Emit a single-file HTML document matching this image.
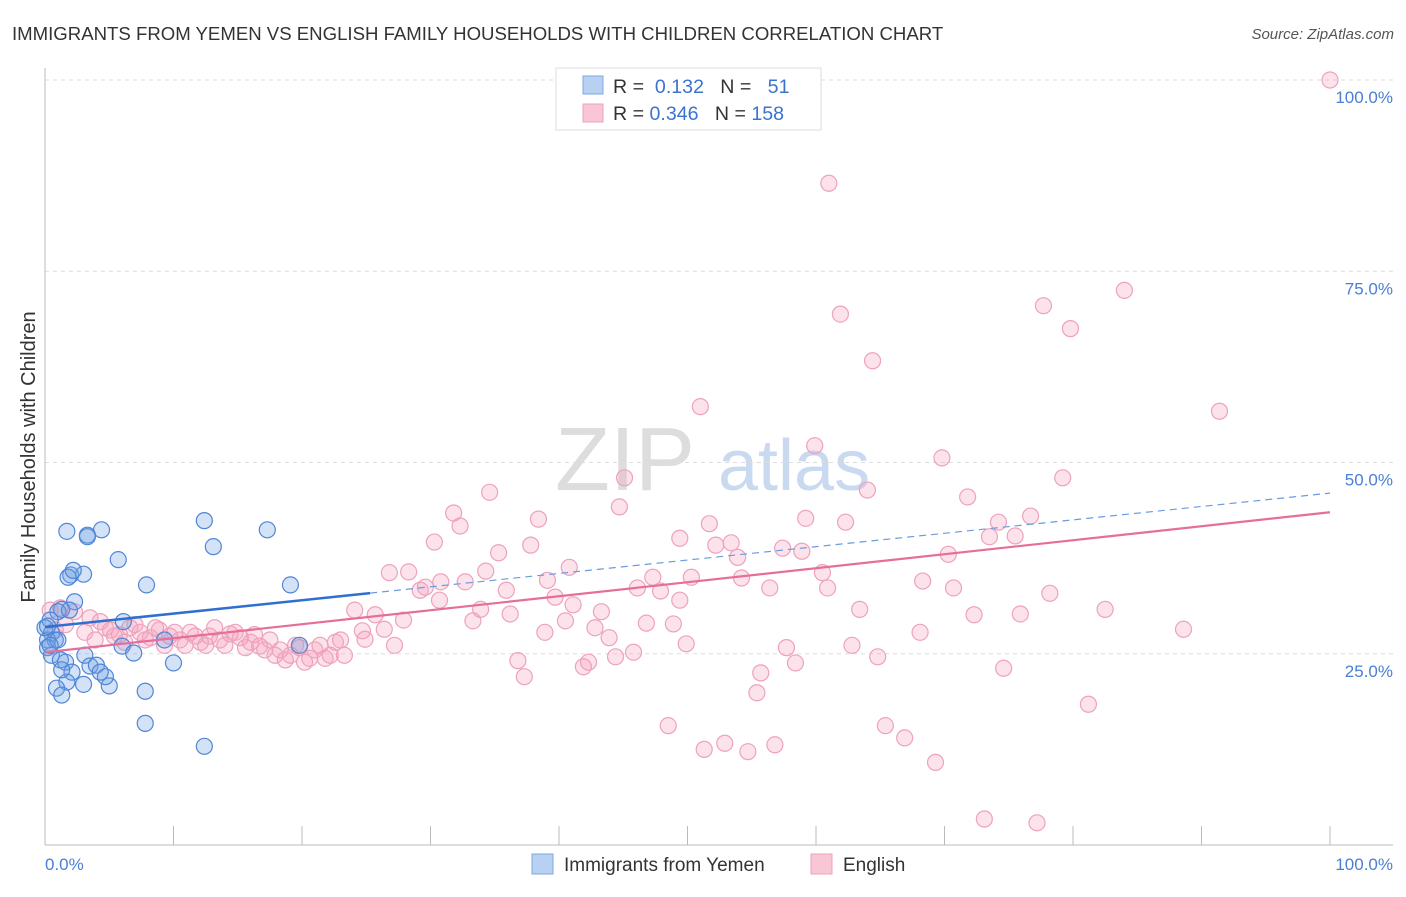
<!DOCTYPE html>
<html><head><meta charset="utf-8"><style>
body{margin:0;background:#fff;font-family:"Liberation Sans",sans-serif}
svg text{font-family:"Liberation Sans",sans-serif}
</style></head><body>
<svg id="chart" width="1406" height="892" xmlns="http://www.w3.org/2000/svg">
<text x="12" y="40" font-size="18.6" fill="#333">IMMIGRANTS FROM YEMEN VS ENGLISH FAMILY HOUSEHOLDS WITH CHILDREN CORRELATION CHART</text>
<text x="1394" y="39" font-size="15" fill="#555" font-style="italic" text-anchor="end">Source: ZipAtlas.com</text>
<g><text x="555" y="490" font-size="90" fill="#ddd" font-family="Liberation Serif">ZIP</text><text x="718" y="490" font-size="72" fill="#c9daf0">atlas</text></g>
<g id="grid"></g><g id="axes"></g><g id="pts"></g><g id="lines"></g>
<text transform="translate(35,457) rotate(-90)" font-size="20" fill="#333" text-anchor="middle">Family Households with Children</text>
<text x="45" y="870" font-size="17" fill="#4a7fd4">0.0%</text>
<text x="1393" y="870" font-size="17" fill="#4a7fd4" text-anchor="end">100.0%</text>
<g>
<rect x="556" y="68" width="265" height="62" fill="#fff" stroke="#ddd"/>
<rect x="583" y="76" width="20" height="18" fill="#b8d1f3" stroke="#7ea8e3"/>
<rect x="583" y="104" width="20" height="18" fill="#f9c6d6" stroke="#eea2bb"/>
<text x="613" y="93" font-size="19.6" fill="#333">R = <tspan fill="#3a73d0">&#160;0.132</tspan>&#160;&#160;&#160;N = <tspan fill="#3a73d0">&#160;&#160;51</tspan></text>
<text x="613" y="120" font-size="19.6" fill="#333">R = <tspan fill="#3a73d0">0.346</tspan>&#160;&#160;&#160;N = <tspan fill="#3a73d0">158</tspan></text>
</g>
<g>
<rect x="532" y="854" width="21" height="20" fill="#b8d1f3" stroke="#7ea8e3"/>
<text x="564" y="871" font-size="19" fill="#333">Immigrants from Yemen</text>
<rect x="811" y="854" width="21" height="20" fill="#f9c6d6" stroke="#eea2bb"/>
<text x="843" y="871" font-size="19" fill="#333">English</text>
</g>
</svg>
<script>
const yTicks=[25,50,75,100];
const yTickLabels=["25.0%","50.0%","75.0%","100.0%"];
const xTicks=[0,10,20,30,40,50,60,70,80,90,100];
const blueX=[1.7,3.3,4.4,3.3,5.7,2.0,1.8,3.0,2.2,7.9,12.4,13.1,17.3,19.1,2.3,1.3,1.0,0.4,0.5,0.2,0.8,0.2,0.5,1.2,1.6,3.1,2.1,3.5,4.0,1.7,3.0,0.9,1.3,5.0,4.7,7.8,6.1,6.0,6.9,10.0,7.8,12.4,9.3,19.8,0,0.2,1.0,0.4,1.9,4.3,1.3];
const blueY=[41.0,40.5,41.2,40.3,37.3,35.3,35.0,35.4,35.9,34.0,42.4,39.0,41.2,34.0,31.8,30.8,30.5,29.4,27.7,26.8,26.8,25.8,24.8,24.2,23.9,24.8,22.6,23.4,23.5,21.3,21.0,20.5,19.6,20.8,22.0,20.1,29.2,26.0,25.1,23.8,15.9,12.9,26.8,26.1,28.4,28.6,26.8,26.1,30.7,22.6,22.9];
const pinkX=[0.4,1.2,2.3,3.5,4.3,5.1,5.8,6.6,7.4,8.2,8.9,9.7,10.5,11.3,12.1,12.8,13.6,14.4,15.2,16.0,16.7,17.5,18.3,19.1,19.8,20.6,21.4,22.2,23.0,
0.8,1.6,3.1,3.9,4.7,5.4,6.2,7.0,7.8,8.6,9.3,10.1,10.9,11.7,12.5,13.2,14.0,14.8,15.6,16.3,17.1,17.9,18.7,19.5,20.2,21.0,21.8,22.6,23.3,
100,61.0,61.9,84.0,77.7,79.8,64.4,51.0,91.4,59.9,69.8,64.0,79.2,34.6,45.1,44.7,31.8,32.3,38.4,30.3,37.8,35.3,40.8,39.1,26.8,28.3,34.3,32.7,30.8,29.6,29.2,35.9,39.7,41.1,33.9,36.2,43.3,24.1,25.7,26.4,27.9,33.3,40.5,42.8,43.9,38.9,48.9,46.8,45.8,44.4,42.3,41.9,36.8,37.3,27.2,24.9,49.4,51.7,52.2,53.4,53.9,57.4,58.9,59.2,62.3,60.5,60.9,54.2,50.3,47.3,46.1,47.9,49.4,56.4,63.4,68.3,70.7,70.3,71.8,74.2,73.5,75.5,76.7,68.1,72.3,75.9,78.2,82.5,88.6,81.2,74.6,64.8,62.8,57.7,58.4,55.7,55.4,49.9,48.5,51.3,52.9,54.7,56.8,65.4,66.9,69.3,73.1,77.2,30.7,24.7];
const pinkY=[30.7,31.0,30.5,29.7,29.2,28.1,27.5,28.4,27.8,27.1,28.1,27.3,26.8,27.8,26.5,27.3,26.8,27.6,27.1,26.5,26.0,26.8,25.5,24.8,25.8,24.4,26.1,24.8,26.8,
28.1,28.8,27.8,26.8,28.4,27.3,26.5,28.8,26.8,28.4,26.1,27.8,26.1,27.3,26.1,28.4,26.1,27.8,25.8,27.5,25.5,24.8,24.2,26.1,23.9,25.5,24.4,26.5,24.8,
100,86.5,69.4,72.5,70.5,67.5,63.3,57.3,56.7,52.2,50.6,46.4,48.0,46.1,48.0,44.2,43.4,41.7,42.6,39.6,39.2,38.2,36.3,34.6,35.6,35.7,35.8,34.4,34.4,33.7,33.3,33.3,32.4,31.4,30.8,30.2,30.5,30.7,30.1,28.2,29.4,29.3,29.3,28.4,27.1,27.8,28.9,29.0,25.2,24.6,23.9,23.3,24.1,22.0,26.1,26.9,40.1,42.0,39.2,39.5,37.6,38.8,38.4,42.7,42.2,35.6,33.6,34.9,35.0,35.0,33.6,33.2,32.0,33.6,30.8,34.5,33.6,38.0,45.5,42.2,40.3,40.4,43.0,27.8,30.1,30.2,32.9,30.8,28.2,18.4,23.1,24.6,26.1,25.8,23.8,22.5,19.9,26.3,15.6,12.5,13.3,12.2,13.1,15.6,14.0,10.8,3.4,2.9,32.0,28.0];
const blueLine=[28.5,46.0];
const blueSolidEnd=25.3;
const pinkLine=[25.2,43.5];
const NS="http://www.w3.org/2000/svg";
const sx=v=>45+v*12.85, sy=v=>845-v*7.65;
function mk(t,a,p){const e=document.createElementNS(NS,t);for(const k in a)e.setAttribute(k,a[k]);p.appendChild(e);return e;}
const grid=document.getElementById('grid'),axes=document.getElementById('axes'),pts=document.getElementById('pts'),lines=document.getElementById('lines');
yTicks.forEach((v,i)=>{
 const l=mk('line',{x1:45,x2:1393,y1:sy(v),y2:sy(v),stroke:'#ddd','stroke-dasharray':'4,4'},grid);
 
 
 const t=mk('text',{x:1393,y:sy(v)+23,'font-size':17,fill:'#4a7fd4','text-anchor':'end'},grid);
 t.textContent=yTickLabels[i];
 
 
});
const ax=mk('line',{x1:45,x2:1393,y1:845,y2:845,stroke:'#bbb'},axes);


const ay=mk('line',{x1:45,x2:45,y1:68,y2:845,stroke:'#bbb'},axes);


xTicks.forEach(v=>{
 const t=mk('line',{x1:sx(v),x2:sx(v),y1:826,y2:845,stroke:'#bbb'},axes);
 
 
});
pinkX.forEach((x,i)=>{
 const c=mk('circle',{cx:sx(x),cy:sy(pinkY[i]),r:8,fill:'rgba(244,160,190,0.3)',stroke:'#eea2bb','stroke-width':1.2},pts);
 
 
});
blueX.forEach((x,i)=>{
 const c=mk('circle',{cx:sx(x),cy:sy(blueY[i]),r:8,fill:'rgba(110,160,230,0.3)',stroke:'#4f86d6','stroke-width':1.2},pts);
 
 
});
const by=x=>blueLine[0]+(blueLine[1]-blueLine[0])*x/100;
const bl=mk('line',{x1:sx(0),y1:sy(by(0)),x2:sx(blueSolidEnd),y2:sy(by(blueSolidEnd)),stroke:'#2f6fd0','stroke-width':2.5},lines);


const bd=mk('line',{x1:sx(blueSolidEnd),y1:sy(by(blueSolidEnd)),x2:sx(100),y2:sy(by(100)),stroke:'#6b9be0','stroke-width':1.2,'stroke-dasharray':'7,5'},lines);


const pl=mk('line',{x1:sx(0),y1:sy(pinkLine[0]),x2:sx(100),y2:sy(pinkLine[1]),stroke:'#e66e9a','stroke-width':2.2},lines);


</script>
</body></html>
